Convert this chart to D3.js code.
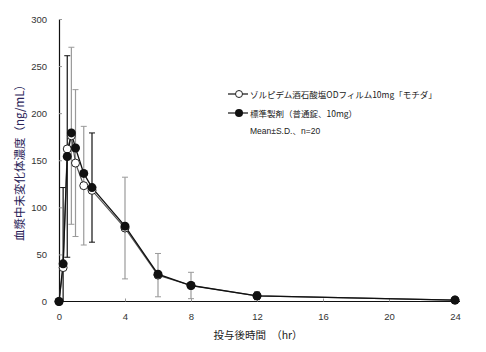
<!DOCTYPE html>
<html>
<head>
<meta charset="utf-8">
<script src="https://cdn.jsdelivr.net/npm/d3@7"></script>
<style>
  body { margin: 0; background: #fff; }
  svg { font-family: "Liberation Sans", Arial, "Noto Sans CJK JP", sans-serif; }
</style>
</head>
<body>
<div id="chart"></div>
<script>
// sampling times (hr)
var times = [0, 0.25, 0.5, 0.75, 1, 1.5, 2, 4, 6, 8, 12, 24];
// ゾルピデム酒石酸塩ODフィルム10mg「モチダ」 (open circles)
var testMean = [0, 36, 162, 176, 147, 123, 118, 78, 28, 17, 6, 1.5];
var testSD   = [0, 0, 0, 94, 78, 63, 0, 54, 23, 14, 0, 0];
// 標準製剤（普通錠、10mg） (filled circles)
var refMean = [0, 40, 154, 179, 163, 136, 121, 80, 29, 17, 6, 1.5];
var refSD   = [0, 81, 107, 0, 0, 0, 58, 0, 0, 0, 4, 0];

var xTicks = [0, 4, 8, 12, 16, 20, 24];
var yTicks = [0, 50, 100, 150, 200, 250, 300];

var legendLabels = ["ゾルピデム酒石酸塩ODフィルム10mg「モチダ」", "標準製剤（普通錠、10mg）"];
var noteText = "Mean±S.D.、n=20";

var width = 486, height = 352;
var margin = { top: 19, right: 30, bottom: 51, left: 59 };

var svg = d3.select("#chart").append("svg")
    .attr("width", width)
    .attr("height", height);

var x = d3.scaleLinear().domain([0, 24]).range([margin.left, 455]);
var y = d3.scaleLinear().domain([0, 300]).range([height - margin.bottom + 0.5, margin.top]);

// axes
var xAxis = svg.append("g")
    .attr("transform", "translate(0," + y(0) + ")")
    .call(d3.axisBottom(x).tickValues(xTicks).tickSizeInner(-3).tickSizeOuter(0).tickPadding(12));
xAxis.select(".domain").attr("d", "M" + (margin.left) + ",0H460").attr("stroke", "#111").attr("stroke-width", 1.2);
xAxis.selectAll(".tick line").attr("stroke", "#999");
xAxis.selectAll("text").attr("font-size", "9.5px").attr("fill", "#333");

var yAxis = svg.append("g")
    .attr("transform", "translate(" + x(0) + ",0)")
    .call(d3.axisLeft(y).tickValues(yTicks).tickSizeInner(-3).tickSizeOuter(0).tickPadding(12));
yAxis.select(".domain").attr("stroke", "#111").attr("stroke-width", 1.2);
yAxis.selectAll(".tick line").attr("stroke", "#999");
yAxis.selectAll("text").attr("font-size", "9.5px").attr("fill", "#333");

// axis titles
svg.append("text")
    .attr("transform", "translate(24," + 160 + ") rotate(-90)")
    .attr("text-anchor", "middle")
    .attr("font-size", "11.5px")
    .attr("fill", "#2a2358")
    .attr("font-family", "'Noto Sans CJK JP', sans-serif")
    .text("血漿中未変化体濃度（ng/mL）");

svg.append("text")
    .attr("x", 258)
    .attr("y", 339)
    .attr("text-anchor", "middle")
    .attr("font-size", "10.5px")
    .attr("fill", "#222")
    .attr("font-family", "'Noto Sans CJK JP', sans-serif")
    .text("投与後時間　（hr）");

// error bars
function errorBars(means, sds, color) {
    var rows = times.map(function (t, i) { return { t: t, m: means[i], s: sds[i] }; })
        .filter(function (d) { return d.s > 0; });
    var g = svg.append("g");
    rows.forEach(function (d) {
        var lo = Math.max(d.m - d.s, 0), hi = d.m + d.s;
        g.append("line")
            .attr("x1", x(d.t)).attr("x2", x(d.t))
            .attr("y1", y(lo)).attr("y2", y(hi))
            .attr("stroke", color).attr("stroke-width", 1.2);
        [lo, hi].forEach(function (v) {
            if (v <= 0) return;
            g.append("line")
                .attr("x1", x(d.t) - 3).attr("x2", x(d.t) + 3)
                .attr("y1", y(v)).attr("y2", y(v))
                .attr("stroke", color).attr("stroke-width", 1);
        });
    });
}
errorBars(testMean, testSD, "#9a9a9a");
errorBars(refMean, refSD, "#111");

// lines
var line = d3.line()
    .x(function (d) { return x(d[0]); })
    .y(function (d) { return y(d[1]); });

var testPts = times.map(function (t, i) { return [t, testMean[i]]; });
var refPts = times.map(function (t, i) { return [t, refMean[i]]; });

svg.append("path").datum(testPts).attr("d", line)
    .attr("fill", "none").attr("stroke", "#555").attr("stroke-width", 1.2);
svg.append("path").datum(refPts).attr("d", line)
    .attr("fill", "none").attr("stroke", "#111").attr("stroke-width", 1.3);

// markers
svg.append("g").selectAll("circle").data(testPts).enter().append("circle")
    .attr("cx", function (d) { return x(d[0]); })
    .attr("cy", function (d) { return y(d[1]); })
    .attr("r", 4)
    .attr("fill", "#fff").attr("stroke", "#222").attr("stroke-width", 1);

svg.append("g").selectAll("circle").data(refPts).enter().append("circle")
    .attr("cx", function (d) { return x(d[0]); })
    .attr("cy", function (d) { return y(d[1]); })
    .attr("r", 4.5)
    .attr("fill", "#111");

// legend
var legend = svg.append("g").attr("transform", "translate(228,94)");
legendLabels.forEach(function (lab, i) {
    var row = legend.append("g").attr("transform", "translate(0," + (i * 19) + ")");
    row.append("line").attr("x1", 0).attr("x2", 20).attr("y1", 0).attr("y2", 0)
        .attr("stroke", "#111").attr("stroke-width", 1.2);
    if (i === 0) {
        row.append("circle").attr("cx", 11).attr("cy", 0).attr("r", 3.5)
            .attr("fill", "#fff").attr("stroke", "#222");
    } else {
        row.append("circle").attr("cx", 11).attr("cy", 0).attr("r", 4).attr("fill", "#111");
    }
    row.append("text").attr("x", 22).attr("y", 3.5)
        .attr("font-size", "8.5px").attr("fill", "#222")
        .attr("font-family", "'Noto Sans CJK JP', sans-serif")
        .text(lab);
});
legend.append("text").attr("x", 22).attr("y", 39.5)
    .attr("font-size", "8.5px").attr("fill", "#222")
    .attr("font-family", "'Liberation Sans', 'Noto Sans CJK JP', sans-serif")
    .text(noteText);
</script>
</body>
</html>
